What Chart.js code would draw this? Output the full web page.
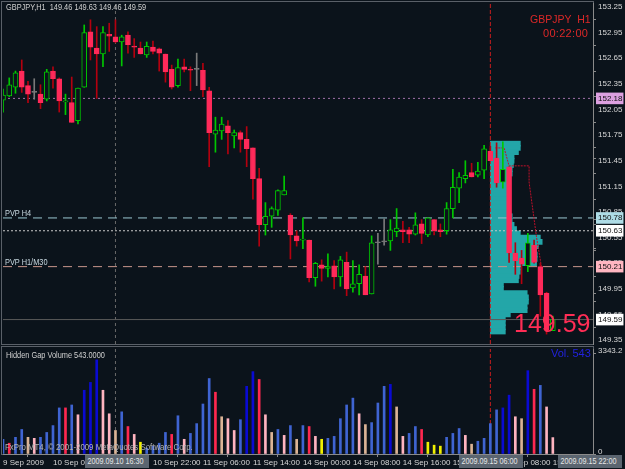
<!DOCTYPE html>
<html>
<head>
<meta charset="utf-8">
<script src="https://cdn.jsdelivr.net/npm/chart.js@4.4.1/dist/chart.umd.min.js"></script>
<style>
html, body { margin: 0; padding: 0; background: #0b131b; width: 625px; height: 469px; overflow: hidden; }
#wrap { position: relative; width: 625px; height: 469px; font-family: 'Liberation Sans', Arial, sans-serif; }
canvas { position: absolute; left: 0; }
.t { position: absolute; white-space: nowrap; line-height: 1; transform-origin: 0 0; }
.n { transform: scaleX(0.82); }
.frame { position: absolute; border: 1px solid #5a6068; }
.tbox { position: absolute; background: #5b6570; color: #e6e6e6; font-size: 9px; line-height: 1; padding: 2px 3px; white-space: nowrap; width: 74px; transform: scaleX(0.8); transform-origin: 0 0; }
</style>
</head>
<body>
<div id="wrap">
  <div class="frame" style="left:1px;top:1px;width:591px;height:342px"></div>
  <div class="frame" style="left:1px;top:346px;width:591px;height:107px"></div>
  <canvas id="price" width="625" height="346" style="top:0"></canvas>
  <canvas id="vol" width="625" height="123" style="top:346px"></canvas>

  <div class="t n" style="left:6px;top:3px;font-size:9px;color:#d0d0d0">GBPJPY,H1&nbsp; 149.46 149.63 149.46 149.59</div>
  <div class="t" style="left:530px;top:14px;font-size:10.5px;color:#dc2828">GBPJPY&nbsp; H1</div>
  <div class="t" style="left:543px;top:28px;font-size:11px;color:#dc2828;letter-spacing:0.3px">00:22:00</div>
  <div class="t n" style="left:5px;top:209px;font-size:9px;color:#c8d8e0">PVP H4</div>
  <div class="t n" style="left:5px;top:258px;font-size:9px;color:#c8d8e0">PVP H1/M30</div>
  <div class="t" style="left:514px;top:311px;font-size:25px;color:#ff2d55">149.59</div>
  <div class="t n" style="left:6px;top:351px;font-size:9px;color:#d0d0d0">Hidden Gap Volume 543.0000</div>
  <div class="t" style="left:551px;top:348px;font-size:11px;color:#2222dd">Vol. 543</div>
  <div class="t" style="left:5px;top:443px;font-size:9px;color:#b4b4b4;transform:scaleX(0.87)">FxPro MT4, © 2001-2009 MetaQuotes Software Corp.</div>
  <div class="tbox" style="left:85px;top:455px">2009.09.10 16:30</div>
  <div class="tbox" style="left:459px;top:455px">2009.09.15 06:00</div>
  <div class="tbox" style="left:558px;top:455px">2009.09.15 22:00</div>
</div>

<script>
// ---- data (GBPJPY H1) ----
const opens = [152.16,152.21,152.31,152.50,152.33,152.25,152.23,152.17,152.50,152.41,
  152.14,152.13,151.92,152.31,152.96,152.77,152.70,152.93,152.90,152.84,
  152.92,152.79,152.77,152.69,152.78,152.76,152.70,152.52,152.33,152.55,
  152.52,152.52,152.51,152.27,151.76,151.80,151.86,151.74,151.78,151.70,
  151.60,151.24,150.70,150.80,150.87,151.05,150.81,150.57,150.52,150.52,
  150.08,150.23,150.19,150.22,150.09,150.26,149.96,150.01,150.10,149.89,
  150.49,150.50,150.51,150.62,150.64,150.64,150.59,150.71,150.58,150.76,
  150.64,150.63,150.89,151.13,151.24,151.31,151.28,151.34,151.56,151.48,
  151.20,151.38,150.37,150.31,150.22,150.46,150.21,149.90,149.46];
const highs = [152.29,152.42,152.50,152.63,152.38,152.41,152.34,152.52,152.55,152.42,
  152.23,152.43,152.30,153.04,153.10,153.02,153.02,153.06,153.10,152.92,
  152.96,152.88,152.84,152.84,152.85,152.77,152.70,152.57,152.64,152.64,
  152.55,152.71,152.59,152.31,151.96,151.96,151.92,151.81,151.80,151.85,
  151.60,151.36,150.96,150.91,151.11,151.27,150.83,150.63,150.78,150.52,
  150.26,150.29,150.36,150.28,150.33,150.38,150.28,150.23,150.21,150.57,
  150.60,150.77,150.76,150.89,150.74,150.67,150.84,150.76,150.78,150.76,
  150.71,150.96,151.35,151.31,151.45,151.42,151.43,151.63,151.62,151.66,
  151.67,151.38,150.49,150.40,150.60,150.52,150.25,149.91,149.63];
const lows = [152.02,152.20,152.24,152.25,152.13,152.17,152.06,152.15,152.30,152.02,
  151.99,151.90,151.88,152.31,152.63,152.18,152.55,152.73,152.83,152.56,
  152.71,152.66,152.70,152.66,152.70,152.50,152.37,152.29,152.31,152.49,
  152.27,152.33,152.20,151.38,151.55,151.70,151.53,151.60,151.55,151.38,
  151.00,150.45,150.58,150.67,150.81,151.05,150.30,150.45,150.42,150.03,
  149.98,150.04,150.09,149.95,149.98,149.87,149.91,149.88,149.88,149.89,
  150.24,150.46,150.40,150.56,150.49,150.49,150.58,150.48,150.56,150.58,
  150.56,150.59,150.78,150.96,151.19,151.26,151.26,151.24,151.45,151.14,
  151.13,150.26,150.12,150.01,150.15,150.25,149.63,149.42,149.46];
const closes = [152.22,152.34,152.48,152.31,152.23,152.25,152.13,152.49,152.41,152.15,
  152.15,151.90,152.30,152.95,152.78,152.70,152.95,152.91,152.84,152.90,
  152.81,152.78,152.70,152.79,152.73,152.71,152.49,152.31,152.54,152.52,
  152.51,152.52,152.28,151.78,151.81,151.88,151.78,151.78,151.70,151.59,
  151.24,150.70,150.80,150.89,151.10,151.10,150.58,150.51,150.53,150.08,
  150.25,150.19,150.21,150.09,150.29,149.95,150.01,150.12,149.88,150.49,
  150.49,150.50,150.64,150.66,150.62,150.59,150.70,150.60,150.78,150.63,
  150.62,150.89,151.14,151.26,151.28,151.26,151.33,151.59,151.45,151.19,
  151.35,150.37,150.28,150.24,150.49,150.26,149.88,149.47,149.59];

// hidden gap volume and its class per bar (B blue, N navy, P pink, T tan, R red, Y yellow)
const volumes = [487,357,552,812,552,519,552,714,941,1526,
  1526,1623,1298,2110,2370,3116,2110,1331,779,1396,
  909,649,390,195,260,357,714,649,1266,487,
  682,1006,1655,2499,2045,1233,1169,779,1136,2240,
  2727,2467,1298,714,812,617,941,487,941,909,
  584,487,519,584,1169,1623,1850,1331,974,1039,
  1688,2240,2305,1558,584,682,909,812,390,292,
  260,552,682,844,617,325,422,519,1006,1461,
  1526,1948,1233,1169,2759,2142,2272,1558,543];
const volType = ['B','R','B','B','T','P','B','B','B','B',
  'R','B','P','N','N','N','P','P','T','B',
  'R','P','Y','B','B','B','B','R','B','P',
  'B','B','B','B','R','T','P','P','B','N',
  'N','R','P','T','B','P','B','T','B','R',
  'P','Y','B','B','B','B','B','P','T','B',
  'B','B','N','T','P','B','B','R','Y','Y',
  'Y','B','B','B','P','T','B','B','B','B',
  'N','N','P','T','N','R','B','P','P'];

// volume profile of the last session (rows of 0.05, length in bars)
const profStart = 78;
const profPrice = [151.65,151.60,151.55,151.50,151.45,151.40,151.35,151.30,151.25,151.20,
  151.15,151.10,151.05,151.00,150.95,150.90,150.85,150.80,150.75,150.70,
  150.65,150.60,150.55,150.50,150.45,150.40,150.35,150.30,150.25,150.20,
  150.15,150.10,150.05,150.00,149.95,149.90,149.85,149.80,149.75,149.70,
  149.65,149.60,149.55,149.50,149.45];
const profLen = [4.8,4.8,4.5,3.8,3.8,3.7,3.5,3.5,3.2,3.2,
  3.0,3.0,2.9,2.9,3.0,3.2,3.2,3.5,3.5,3.8,
  4.2,4.8,8.0,8.3,7.7,7.4,7.5,7.5,7.4,4.8,
  4.8,4.6,4.5,2.1,2.1,5.9,6.1,6.1,5.9,5.9,
  3.2,2.4,2.4,2.4,2.4];

// POC path
const pocIdx = [78.8, 80.2, 81.0, 84.2, 84.2, 85.4, 86.2];
const pocPrice = [151.60, 151.60, 151.39, 151.39, 151.20, 150.55, 150.20];

// horizontal levels
const levelNames = ['PVP D', 'PVP H4', 'Pivot', 'PVP H1/M30', 'Bid'];
const levelPrices = [152.18, 150.78, 150.63, 150.21, 149.59];

// separators (bar index)
const sepIdx = [18, 78];

// axis ticks
const priceTicks = [153.25,152.95,152.65,152.35,152.05,151.75,151.45,151.15,150.85,150.55,150.25,149.95,149.65,149.35];
const timeTickIdx = [0, 8, 24, 32, 40, 48, 56, 64, 72, 80, 88];
const timeTickText = ['9 Sep 2009','10 Sep 06:00','10 Sep 22:00','11 Sep 06:00','11 Sep 14:00','14 Sep 00:00','14 Sep 08:00','14 Sep 16:00','15 Sep 00:00','15 Sep 08:00','15 Sep 16:00'];
const volTicks = [0, 3343.2];

// ---- styles ----
const BG = '#0b131b';
const FONT = "'Liberation Sans', Arial, sans-serif";
const xMin = 0, xMax = 94.43;
const yMin = 149.304, yMax = 153.297;
const levelStyle = [
  { color: '#a070a8', dash: [2, 3], box: '#dca0e0' },
  { color: '#9cc8d2', dash: [9, 6], box: '#aedce6' },
  { color: '#c8c8c8', dash: [2, 2], box: '#ffffff' },
  { color: '#c8968c', dash: [9, 6], box: '#ffb6c1' },
  { color: '#5a5a5a', dash: [], box: '#ffffff' }
];
const volColor = { B: '#3f64d2', N: '#0a0ad2', P: '#ffb4c0', T: '#dcb496', R: '#ff2850', Y: '#f0f000' };

const idx = opens.map((_, i) => i);
const kind = i => closes[i] > opens[i] ? 'up' : (closes[i] < opens[i] ? 'down' : 'flat');
const wickCol = { up: '#00c800', down: '#b4000f', flat: '#7a7a7a' };
const bodyFill = { up: BG, down: '#ff2a5a', flat: '#7a7a7a' };
const bodyLine = { up: '#00c800', down: '#ff2a5a', flat: '#7a7a7a' };

Chart.defaults.font.family = FONT;

const hline = (p, k) => ({
  type: 'line',
  data: [{ x: xMin, y: p }, { x: xMax, y: p }],
  borderColor: levelStyle[k].color, borderDash: levelStyle[k].dash,
  borderWidth: 1, pointRadius: 0, fill: false, order: 4
});
const vline = (i, lo, hi, color, dash) => ({
  type: 'line',
  data: [{ x: i, y: lo }, { x: i, y: hi }],
  borderColor: color, borderDash: dash, borderWidth: 1, pointRadius: 0, fill: false, order: 4
});

const allPriceTicks = priceTicks.concat(levelPrices);
const isLevel = v => levelPrices.indexOf(v) >= 0;

new Chart(document.getElementById('price').getContext('2d'), {
  type: 'bar',
  data: {
    datasets: [
      {
        type: 'bar', indexAxis: 'y',
        data: profPrice.map((p, k) => ({ y: p, x: [profStart, profStart + profLen[k]] })),
        backgroundColor: '#23a6a8', borderWidth: 0, barThickness: 5, grouped: false, order: 6
      },
      ...levelPrices.map((p, k) => hline(p, k)),
      vline(sepIdx[0], yMin, yMax, '#6a6a6a', [3, 3]),
      vline(sepIdx[1], yMin, yMax, '#c81e1e', [4, 2]),
      {
        type: 'line',
        data: pocIdx.map((x, k) => ({ x: x, y: pocPrice[k] })),
        borderColor: '#c0102a', borderDash: [2, 1], borderWidth: 1, pointRadius: 0, fill: false, order: 3
      },
      {
        type: 'bar',
        data: idx.map(i => ({ x: i, y: [lows[i], highs[i]] })),
        backgroundColor: idx.map(i => wickCol[kind(i)]),
        borderWidth: 0, barThickness: 1, grouped: false, order: 2
      },
      {
        type: 'bar',
        data: idx.map(i => ({ x: i, y: [opens[i], closes[i]] })),
        backgroundColor: idx.map(i => bodyFill[kind(i)]),
        borderColor: idx.map(i => bodyLine[kind(i)]),
        borderWidth: 1, borderSkipped: false, minBarLength: 1, barThickness: 5, grouped: false, order: 1
      }
    ]
  },
  options: {
    responsive: false, animation: false,
    layout: { padding: { left: 3, top: 3, right: 0, bottom: 2 } },
    plugins: { legend: { display: false }, tooltip: { enabled: false } },
    scales: {
      x: { type: 'linear', min: xMin, max: xMax, offset: false, display: false },
      y: {
        type: 'linear', position: 'right', min: yMin, max: yMax, offset: false,
        afterBuildTicks: s => { s.ticks = allPriceTicks.map(v => ({ value: v })); },
        afterFit: s => { s.width = 32; s.paddingTop = 0; s.paddingBottom = 0; },
        ticks: {
          autoSkip: false, padding: 2,
          font: { size: 8 },
          callback: v => v.toFixed(2),
          color: c => isLevel(c.tick.value) ? '#111' : '#d8d8d8',
          showLabelBackdrop: c => isLevel(c.tick.value),
          backdropColor: c => isLevel(c.tick.value) ? levelStyle[levelPrices.indexOf(c.tick.value)].box : 'rgba(0,0,0,0)',
          backdropPadding: { left: 2, right: 1, top: 1, bottom: 1 }
        },
        grid: { drawOnChartArea: false, tickLength: 3, color: '#8a8a8a' },
        border: { color: '#8a8a8a' }
      }
    }
  }
});

const vMax = 3476;
new Chart(document.getElementById('vol').getContext('2d'), {
  type: 'bar',
  data: {
    datasets: [
      vline(sepIdx[0], 0, vMax, '#6a6a6a', [3, 3]),
      vline(sepIdx[1], 0, vMax, '#c81e1e', [4, 2]),
      {
        type: 'bar',
        data: idx.map(i => ({ x: i, y: volumes[i] })),
        backgroundColor: idx.map(i => volColor[volType[i]]),
        borderWidth: 0, barThickness: 2, grouped: false, order: 1
      }
    ]
  },
  options: {
    responsive: false, animation: false,
    layout: { padding: { left: 3, top: 3, right: 0, bottom: 0 } },
    plugins: { legend: { display: false }, tooltip: { enabled: false } },
    scales: {
      x: {
        type: 'linear', min: xMin, max: xMax, offset: false,
        afterBuildTicks: s => { s.ticks = timeTickIdx.map(v => ({ value: v })); },
        afterFit: s => { s.height = 15; s.paddingLeft = 0; s.paddingRight = 0; },
        ticks: {
          autoSkip: false, maxRotation: 0, align: 'start', padding: 1,
          font: { size: 8 }, color: '#d8d8d8',
          callback: (v, i) => timeTickText[i]
        },
        grid: { drawOnChartArea: false, tickLength: 3, color: '#8a8a8a' },
        border: { color: '#8a8a8a' }
      },
      y: {
        type: 'linear', position: 'right', min: 0, max: vMax, offset: false,
        afterBuildTicks: s => { s.ticks = volTicks.map(v => ({ value: v })); },
        afterFit: s => { s.width = 32; s.paddingTop = 0; s.paddingBottom = 0; },
        ticks: {
          autoSkip: false, padding: 2, labelOffset: -2,
          font: { size: 8 }, color: '#d8d8d8',
          callback: v => v === 0 ? '0' : v.toFixed(1)
        },
        grid: { drawOnChartArea: false, tickLength: 3, color: '#8a8a8a' },
        border: { color: '#8a8a8a' }
      }
    }
  }
});
</script>
</body>
</html>
